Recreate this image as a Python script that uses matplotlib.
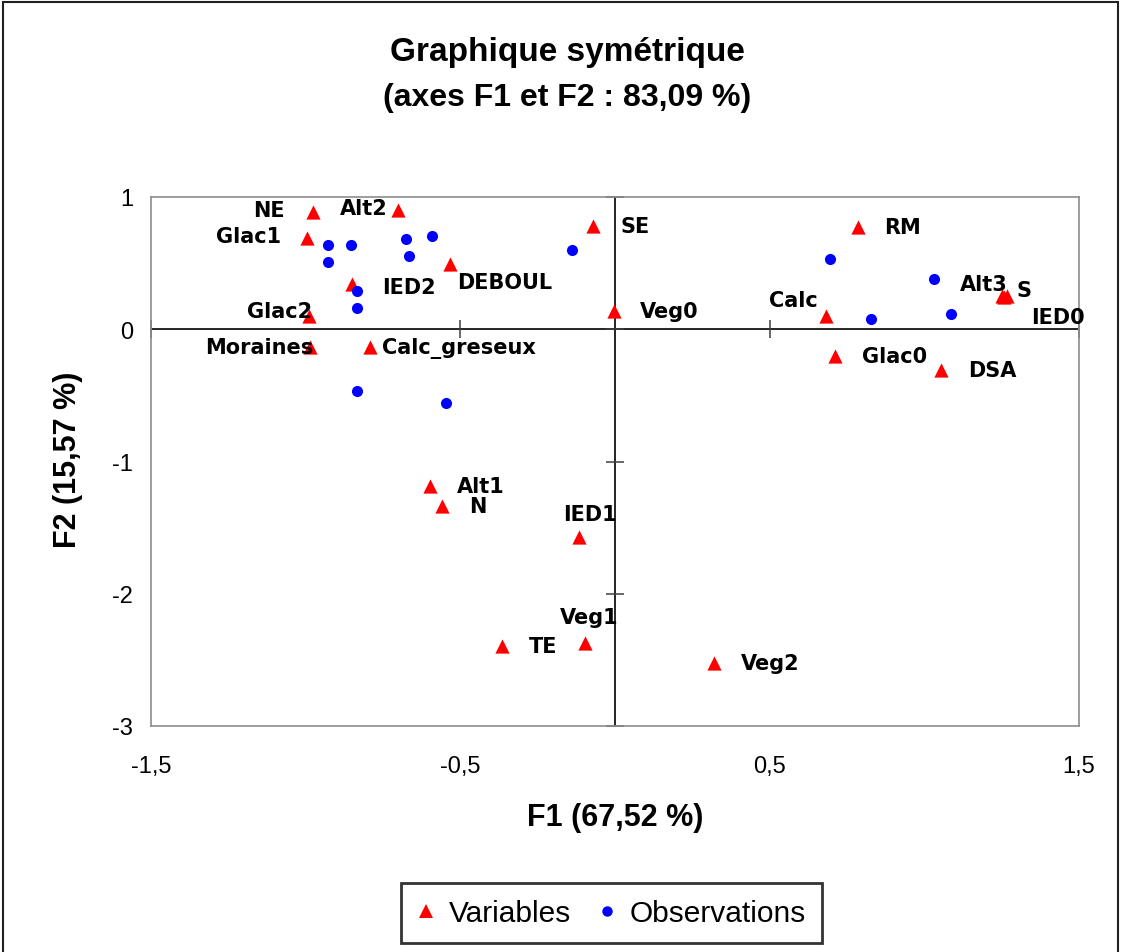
import matplotlib
matplotlib.use("Agg")
import matplotlib.pyplot as plt
from matplotlib.lines import Line2D
from matplotlib.patches import Rectangle

# ---------------- data ----------------
var_names = ["NE", "Alt2", "Glac1", "IED2", "DEBOUL", "SE", "Glac2", "Veg0",
             "Moraines", "Calc_greseux", "RM", "Calc", "Alt3", "S", "IED0",
             "Glac0", "DSA", "Alt1", "N", "IED1", "Veg1", "TE", "Veg2"]
var_f1 = [-0.977, -0.701, -0.997, -0.850, -0.533, -0.070, -0.988, -0.003,
          -0.986, -0.792, 0.787, 0.683, 1.252, 1.266, 1.259,
          0.711, 1.055, -0.598, -0.560, -0.115, -0.097, -0.366, 0.321]
var_f2 = [0.889, 0.904, 0.690, 0.342, 0.493, 0.778, 0.102, 0.140,
          -0.136, -0.136, 0.771, 0.098, 0.249, 0.251, 0.245,
          -0.200, -0.310, -1.183, -1.334, -1.569, -2.375, -2.397, -2.526]

obs_f1 = [-0.927, -0.854, -0.927, -0.677, -0.593, -0.667, -0.138, -0.835,
          -0.835, -0.835, -0.546, 0.696, 1.031, 0.828, 1.087]
obs_f2 = [0.639, 0.639, 0.511, 0.682, 0.707, 0.552, 0.599, 0.291,
          0.161, -0.467, -0.558, 0.531, 0.380, 0.075, 0.115]

x_ticks = [-1.5, -0.5, 0.5, 1.5]
x_tick_labels = ["-1,5", "-0,5", "0,5", "1,5"]
y_ticks = [1, 0, -1, -2, -3]
y_tick_labels = ["1", "0", "-1", "-2", "-3"]

title_lines = ["Graphique symétrique", "(axes F1 et F2 : 83,09 %)"]
x_label = "F1 (67,52 %)"
y_label = "F2 (15,57 %)"
legend_labels = ["Variables", "Observations"]

# ------------- layout (label placement in pixels: dx, dy(up), ha) -------------
label_layout = {
    "NE": (-28, 2, "right"), "Alt2": (-11, 2, "right"), "Glac1": (-25, 2, "right"),
    "IED2": (30, -3, "left"), "DEBOUL": (7, -18, "left"), "SE": (27, 0, "left"),
    "Glac2": (3, 5, "right"), "Veg0": (26, 0, "left"), "Moraines": (3, 0, "right"),
    "Calc_greseux": (12, 0, "left"), "RM": (26, 0, "left"), "Calc": (-9, 16, "right"),
    "Alt3": (5, 12, "right"), "S": (10, 6, "left"), "IED0": (27, -20, "left"),
    "Glac0": (27, 0, "left"), "DSA": (27, 0, "left"), "Alt1": (27, 0, "left"),
    "N": (27, 0, "left"), "IED1": (11, 23, "center"), "Veg1": (4, 26, "center"),
    "TE": (27, 0, "left"), "Veg2": (27, 0, "left"),
}

W, H = 1122, 953
fig = plt.figure(figsize=(W / 100, H / 100), dpi=100)
fig.patch.set_facecolor("white")

L, R, T, B = 151, 1079, 198, 727
ax = fig.add_axes([L / W, 1 - B / H, (R - L) / W, (B - T) / H])
ax.set_xlim(-1.5, 1.5)
ax.set_ylim(-3, 1)
for s in ax.spines.values():
    s.set_color("#8c8c8c")
    s.set_linewidth(1.2)

# zero axes
ax.axhline(0, color="black", lw=1.2, zorder=1)
ax.axvline(0, color="black", lw=1.2, zorder=1)
ax.plot(x_ticks, [0] * len(x_ticks), ls="none", marker="|", ms=12.5,
        mew=1.1, color="#404040", zorder=1, clip_on=False)
ax.plot([0] * len(y_ticks), y_ticks, ls="none", marker="_", ms=12.5,
        mew=1.1, color="#404040", zorder=1, clip_on=False)

# tick labels at edges
ax.set_xticks(x_ticks)
ax.set_xticklabels(x_tick_labels, fontfamily="Liberation Sans", fontsize=17)
ax.set_yticks(y_ticks)
ax.set_yticklabels(y_tick_labels, fontfamily="Liberation Sans", fontsize=17)
ax.tick_params(axis="x", length=0, pad=21)
ax.tick_params(axis="y", length=0, pad=13)

# points
ax.scatter(var_f1, var_f2, marker="^", s=105, color="#ff0000", zorder=3,
           linewidths=0, clip_on=False)
ax.scatter(obs_f1, obs_f2, marker="o", s=64, color="#0000ff", zorder=3,
           linewidths=0, clip_on=False)

for name, x, y in zip(var_names, var_f1, var_f2):
    dx, dy, ha = label_layout[name]
    ax.annotate(name, (x, y), xytext=(dx * 0.72, dy * 0.72),
                textcoords="offset points", ha=ha, va="center",
                fontfamily="DejaVu Sans", fontweight="bold", fontsize=15,
                color="black", zorder=4, annotation_clip=False)

# titles / axis labels
fig.text(567 / W, 1 - 53 / H, title_lines[0], ha="center", va="center",
         fontfamily="Liberation Sans", fontweight="bold", fontsize=24)
fig.text(567 / W, 1 - 98 / H, title_lines[1], ha="center", va="center",
         fontfamily="Liberation Sans", fontweight="bold", fontsize=23)
fig.text(615 / W, 1 - 818 / H, x_label, ha="center", va="center",
         fontfamily="Liberation Sans", fontweight="bold", fontsize=22)
fig.text(68 / W, 1 - 460 / H, y_label, ha="center", va="center", rotation=90,
         fontfamily="Liberation Sans", fontweight="bold", fontsize=22)

# legend
handles = [Line2D([], [], ls="none", marker="^", ms=10, color="#ff0000", mew=0),
           Line2D([], [], ls="none", marker="o", ms=7.5, color="#0000ff", mew=0)]
leg = fig.legend(handles, legend_labels, loc="center",
                 bbox_to_anchor=(611.5 / W, 1 - 914 / H), ncol=2,
                 prop={"family": "Liberation Sans", "size": 21.5},
                 frameon=True, fancybox=False, handlelength=0.6,
                 handletextpad=0.45, columnspacing=0.9, borderpad=0.55,
                 borderaxespad=0)
fr = leg.get_frame()
fr.set_edgecolor("black")
fr.set_linewidth(2.0)

# outer chart border
fig.patches.append(Rectangle((3 / W, -0.05), (1118 - 3) / W, 1.05 - 3 / H,
                             transform=fig.transFigure, fill=False,
                             edgecolor="#202020", lw=1.5))

fig.savefig("out.png", dpi=100, facecolor="white")
